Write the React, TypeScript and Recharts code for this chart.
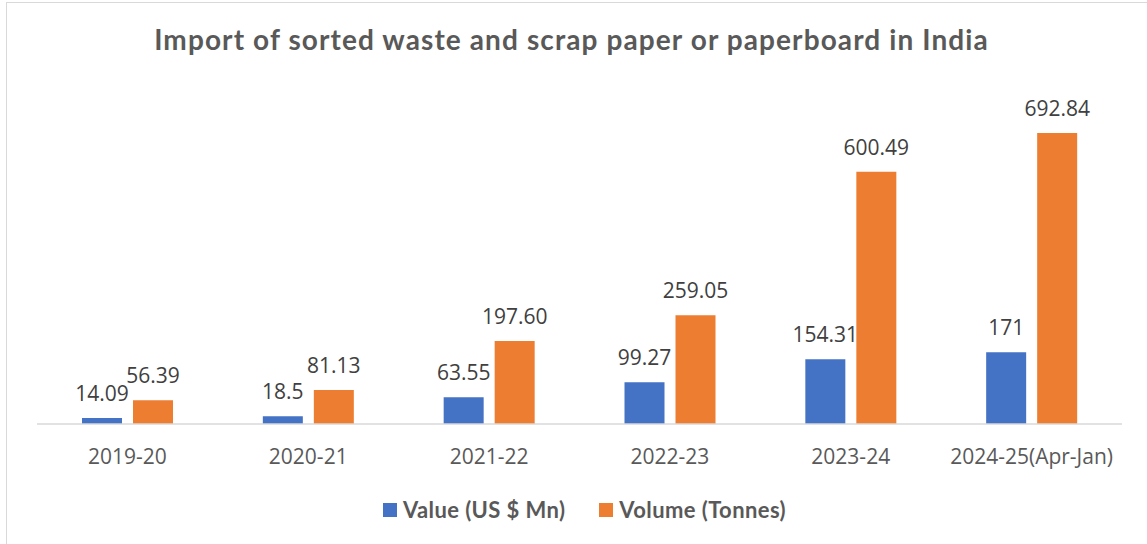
import { Bar, BarChart, LabelList, Legend, XAxis, YAxis } from "recharts";

const years = ["2019-20", "2020-21", "2021-22", "2022-23", "2023-24", "2024-25(Apr-Jan)"];
const valueUsdMn = [14.09, 18.5, 63.55, 99.27, 154.31, 171];
const volumeTonnes = [56.39, 81.13, 197.6, 259.05, 600.49, 692.84];
const volumeLabels = ["56.39", "81.13", "197.60", "259.05", "600.49", "692.84"];

const chartData = years.map((year, i) => ({
  year,
  value: valueUsdMn[i],
  volume: volumeTonnes[i],
  volumeLabel: volumeLabels[i],
}));

const BLUE = "#4472C4";
const ORANGE = "#ED7D31";

function LegendContent() {
  const items = [
    { label: "Value (US $ Mn)", color: BLUE },
    { label: "Volume (Tonnes)", color: ORANGE },
  ];
  return (
    <div style={{ display: "flex", alignItems: "center", gap: 34 }}>
      {items.map((it) => (
        <div key={it.label} style={{ display: "flex", alignItems: "center", gap: 6 }}>
          <span style={{ width: 14, height: 14, background: it.color, display: "inline-block" }} />
          <span
            style={{
              fontFamily: "Lato, sans-serif",
              fontWeight: 700,
              fontSize: 22,
              letterSpacing: 0.4,
              color: "#595959",
              lineHeight: "26px",
            }}
          >
            {it.label}
          </span>
        </div>
      ))}
    </div>
  );
}

export default function App() {
  return (
    <div
      style={{
        position: "absolute",
        left: 0,
        top: 0,
        width: 1147,
        height: 544,
        overflow: "hidden",
        background: "#fff",
      }}
    >
      <div
        style={{
          position: "absolute",
          left: 6,
          top: 2,
          width: 1200,
          height: 600,
          border: "1px solid #d9d9d9",
        }}
      />
      <div
        style={{
          position: "absolute",
          left: 0,
          top: 21,
          width: 1143,
          textAlign: "center",
          fontFamily: "Lato, sans-serif",
          fontWeight: 700,
          fontSize: 28,
          letterSpacing: 1.1,
          color: "#595959",
          lineHeight: "36px",
        }}
      >
        Import of sorted waste and scrap paper or paperboard in India
      </div>
      <div style={{ position: "absolute", left: 0, top: 0 }}>
        <BarChart
          width={1147}
          height={544}
          data={chartData}
          margin={{ top: 88, right: 25, left: 37, bottom: 90 }}
          barGap={11}
        >
          <XAxis
            dataKey="year"
            axisLine={{ stroke: "#d9d9d9", strokeWidth: 1.5 }}
            tickLine={false}
            tickSize={0}
            tickMargin={25}
            height={30}
            interval={0}
            tick={{ fontSize: 21, fill: "#595959", fontFamily: "'Open Sans', sans-serif" }}
          />
          <YAxis hide domain={[0, 800]} />
          <Legend
            verticalAlign="middle"
            align="center"
            layout="horizontal"
            content={<LegendContent />}
            wrapperStyle={{ top: 497, left: 383, width: 520, height: 26 }}
          />
          <Bar dataKey="value" fill={BLUE} barSize={40} isAnimationActive={false}>
            <LabelList
              dataKey="value"
              position="top"
              offset={17}
              style={{ fontSize: 21, fill: "#404040", fontFamily: "'Open Sans', sans-serif" }}
            />
          </Bar>
          <Bar dataKey="volume" fill={ORANGE} barSize={40} isAnimationActive={false}>
            <LabelList
              dataKey="volumeLabel"
              position="top"
              offset={17}
              style={{ fontSize: 21, fill: "#404040", fontFamily: "'Open Sans', sans-serif" }}
            />
          </Bar>
        </BarChart>
      </div>
    </div>
  );
}
